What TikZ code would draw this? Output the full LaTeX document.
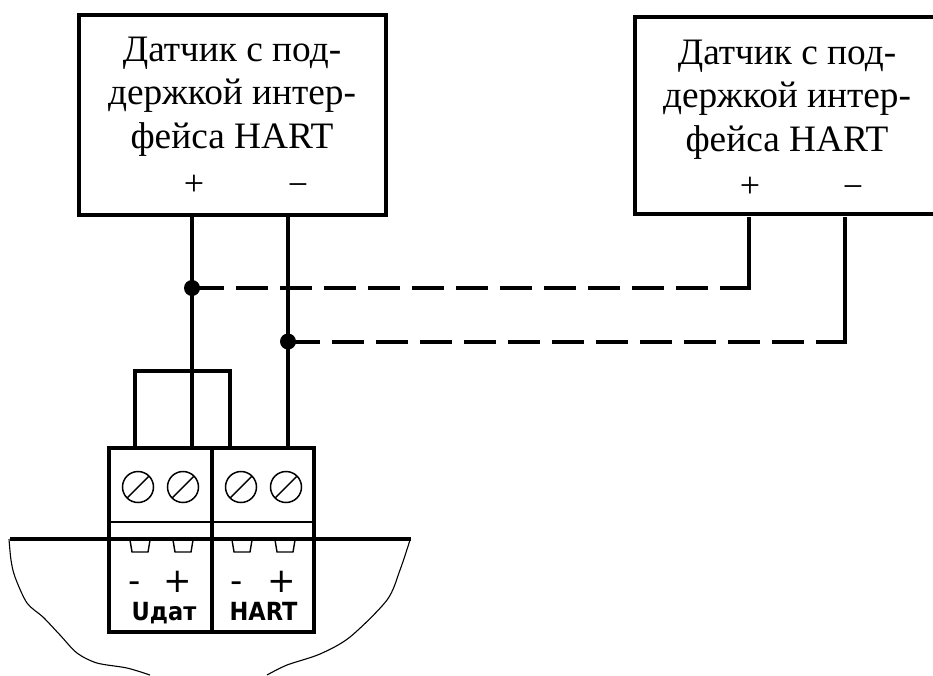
\documentclass[tikz,border=0pt]{standalone}
\usepackage{fontspec}
\setmainfont{Liberation Serif}
\newfontfamily\signfont{DejaVu Sans}
\newfontfamily\namefont[FakeStretch=0.9]{DejaVu Sans}
\usetikzlibrary{calc}
\tikzset{
  wire/.style={line width=4pt,line cap=butt,line join=miter},
  dashwire/.style={line width=4pt,dash pattern=on 32pt off 12pt,dash phase=1pt},
  boxed/.style={draw,line width=4pt,inner sep=0pt,outer sep=0pt,anchor=north west},
  titletext/.style={anchor=base,inner sep=0pt,font=\fontsize{37.3pt}{40pt}\selectfont},
  polarity/.style={anchor=base,inner sep=0pt,font=\fontsize{36pt}{38pt}\selectfont},
  termsign/.style={anchor=base,inner sep=0pt,font=\signfont\fontsize{34pt}{36pt}\selectfont},
  termname/.style={anchor=base,inner sep=0pt,font=\namefont\bfseries\fontsize{25pt}{28pt}\selectfont},
  thin part/.style={line width=1.4pt},
  junction/.style={circle,fill=black,inner sep=0pt,minimum size=16pt},
  screw/.style={circle,draw,line width=1.5pt,inner sep=0pt,outer sep=0pt,minimum size=31pt},
}
\newcommand{\sensortext}[2]{%
  \node[titletext] at (#1,#2) {Датчик с под-};
  \node[titletext] at (#1,#2+43.5) {держкой интер-};
  \node[titletext] at (#1,#2+87) {фейса HART};
}
\newcommand{\screwat}[3]{%
  \node[screw] (#1) at (#2,#3) {};
  \draw[thin part] (#1.225) -- (#1.45);
}
\newcommand{\pinat}[1]{%
  \draw[thin part] (#1-10,540) -- (#1-8,552) -- (#1+8,552) -- (#1+10,540);
}
\begin{document}
\begin{tikzpicture}[x=1pt,y=-1pt]
\useasboundingbox (0,0) rectangle (933,675);
% left sensor
\node[boxed,minimum width=306.7pt,minimum height=200.3pt] (s1) at (79.3,14.7) {};
\sensortext{232}{61}
\node[polarity] (s1p) at (194,195) {+};
\node[polarity] (s1m) at (298,196) {−};
% right sensor (runs off the page)
\draw[wire] (933,16.7) -- (635,16.7) -- (635,214) -- (933,214);
\sensortext{787}{64}
\node[polarity] (s2p) at (750,197) {+};
\node[polarity] (s2m) at (853,198) {−};
% terminal block
\node[boxed,minimum width=205pt,minimum height=183.6pt] (tb) at (109,448) {};
\coordinate (tbdiv) at (212,448);
\draw[wire] (tbdiv) -- (212,631.6);
\draw[thin part] (tb.west |- 0,522) -- (tb.east |- 0,522);
% panel edge
\coordinate (pl) at (10,539);
\coordinate (pr) at (411,539);
\draw[line width=3.6pt] (pl) -- (pr);
\draw[line width=1.1pt] plot[smooth,tension=0.5] coordinates {(9,539) (11,560) (15,577) (27,603) (43,617) (60,635) (77,653) (97,663) (127,668) (150,675)};
\draw[line width=1.1pt] plot[smooth,tension=0.5] coordinates {(267,675) (287,665) (320,654) (350,637) (387,600) (400,570) (410,540)};
% screws
\screwat{sa}{138}{487}
\screwat{sb}{183}{487}
\screwat{sc}{241}{487}
\screwat{sd}{286}{487}
% pins
\pinat{140}\pinat{183}\pinat{242}\pinat{285}
% labels
\node[termsign] (la) at (135,592) {-};
\node[termsign] (lb) at (178,592) {+};
\node[termsign] (lc) at (237,592) {-};
\node[termsign] (ld) at (282,592) {+};
\node[termname] (lu) at (164,620) {Uдат};
\node[termname] (lh) at (263.5,620) {HART};
% connector points
\coordinate (w1) at (192,215);
\coordinate (w2) at (288,215);
\coordinate (w3) at (749,217);
\coordinate (w4) at (845,217);
\node[junction] (j1) at (192,288) {};
\node[junction] (j2) at (288,341.5) {};
\coordinate (c3) at (749,288);
\coordinate (c4) at (845,341.5);
\coordinate (t1) at (192,448);
\coordinate (t2) at (288,448);
\coordinate (ja) at (135,448);
\coordinate (jb) at (230,448);
% wires
\draw[wire] (w1) -- (j1.center) -- (t1);
\draw[wire] (w2) -- (j2.center) -- (t2);
\draw[wire] (ja) -- (135,371) -- (230,371) -- (jb);
\draw[wire] (w3) -- (c3);
\draw[wire] (w4) -- (c4);
\draw[dashwire] ($(c3)+(2,0)$) -- (j1.center);
\draw[dashwire] ($(c4)+(2,0)$) -- (j2.center);
\end{tikzpicture}
\end{document}
